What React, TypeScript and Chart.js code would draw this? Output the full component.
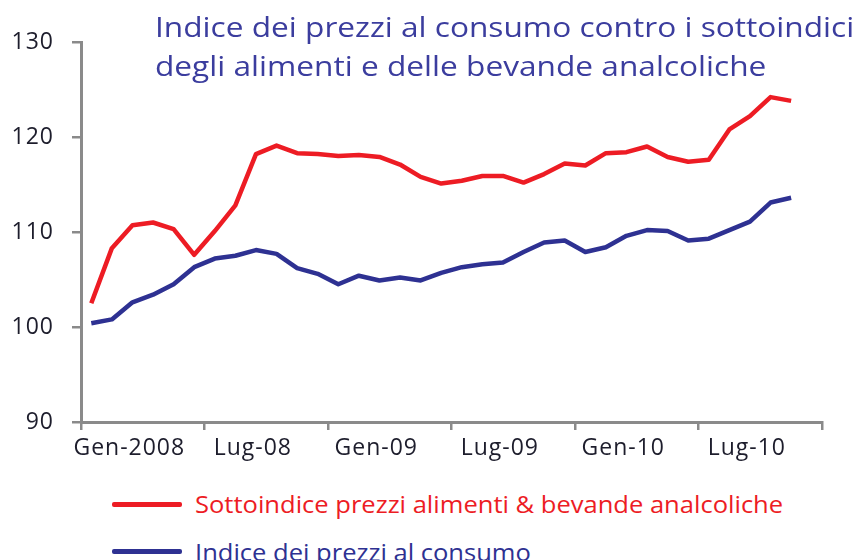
import React, { useEffect, useRef } from 'react';
import { Chart, registerables } from 'chart.js';

Chart.register(...registerables);

// Monthly categories: Gen-2008 .. Dic-2010
const months = [
  'Gen-08', 'Feb-08', 'Mar-08', 'Apr-08', 'Mag-08', 'Giu-08', 'Lug-08', 'Ago-08', 'Set-08', 'Ott-08', 'Nov-08', 'Dic-08',
  'Gen-09', 'Feb-09', 'Mar-09', 'Apr-09', 'Mag-09', 'Giu-09', 'Lug-09', 'Ago-09', 'Set-09', 'Ott-09', 'Nov-09', 'Dic-09',
  'Gen-10', 'Feb-10', 'Mar-10', 'Apr-10', 'Mag-10', 'Giu-10', 'Lug-10', 'Ago-10', 'Set-10', 'Ott-10', 'Nov-10', 'Dic-10',
];

// Labels shown on the x axis (every six months)
const tickLabels = ['Gen-2008', 'Lug-08', 'Gen-09', 'Lug-09', 'Gen-10', 'Lug-10'];

const yTicks = [90, 100, 110, 120, 130];

// Sottoindice prezzi alimenti & bevande analcoliche
const foodIndex = [
  102.5, 108.3, 110.7, 111.0, 110.3, 107.6, 110.1, 112.8, 118.2, 119.1, 118.3, 118.2,
  118.0, 118.1, 117.9, 117.1, 115.8, 115.1, 115.4, 115.9, 115.9, 115.2, 116.1, 117.2,
  117.0, 118.3, 118.4, 119.0, 117.9, 117.4, 117.6, 120.8, 122.2, 124.2, 123.8,
];

// Indice dei prezzi al consumo
const cpi = [
  100.4, 100.8, 102.6, 103.4, 104.5, 106.3, 107.2, 107.5, 108.1, 107.7, 106.2, 105.6,
  104.5, 105.4, 104.9, 105.2, 104.9, 105.7, 106.3, 106.6, 106.8, 107.9, 108.9, 109.1,
  107.9, 108.4, 109.6, 110.2, 110.1, 109.1, 109.3, 110.2, 111.1, 113.1, 113.6,
];

const titleLines = [
  'Indice dei prezzi al consumo contro i sottoindici',
  'degli alimenti e delle bevande analcoliche',
];
const legendLabels = [
  'Sottoindice prezzi alimenti & bevande analcoliche',
  'Indice dei prezzi al consumo',
];

const RED = '#ED1C24';
const BLUE = '#2E3192';
const TITLE_BLUE = '#3b3d9e';
const AXIS_GRAY = '#8a8a8a';
const LABEL_COLOR = '#1d1d2c';
const FONT = "'Open Sans', 'Noto Sans', sans-serif";

const letterSpacingPlugin = {
  id: 'letterSpacing',
  beforeUpdate(chart: any) {
    chart.ctx.letterSpacing = '1px';
  },
  beforeDraw(chart: any) {
    chart.ctx.letterSpacing = '1px';
  },
};

export default function App() {
  const canvasRef = useRef<HTMLCanvasElement | null>(null);

  useEffect(() => {
    const canvas = canvasRef.current;
    if (!canvas) return;
    const chart = new Chart(canvas, {
      type: 'line',
      data: {
        labels: months,
        datasets: [
          {
            label: legendLabels[0],
            data: foodIndex,
            borderColor: RED,
            backgroundColor: RED,
            borderWidth: 4.5,
            pointRadius: 0,
            tension: 0,
          },
          {
            label: legendLabels[1],
            data: cpi,
            borderColor: BLUE,
            backgroundColor: BLUE,
            borderWidth: 4.5,
            pointRadius: 0,
            tension: 0,
          },
        ],
      },
      plugins: [letterSpacingPlugin],
      options: {
        animation: false,
        responsive: false,
        maintainAspectRatio: false,
        layout: { padding: { left: 0, right: 37, top: 42, bottom: 0 } },
        plugins: {
          legend: { display: false },
          title: { display: false },
          tooltip: { enabled: false },
        },
        elements: {
          line: { borderJoinStyle: 'round', borderCapStyle: 'butt' },
        },
        scales: {
          x: {
            type: 'category',
            offset: true,
            grid: {
              offset: true,
              drawOnChartArea: false,
              drawTicks: true,
              tickLength: 8,
              lineWidth: 2.5,
              color: (ctx: any) =>
                ctx.index === undefined || ctx.index % 6 === 0 ? AXIS_GRAY : 'rgba(0,0,0,0)',
            },
            border: { display: true, color: AXIS_GRAY, width: 3 },
            ticks: {
              autoSkip: false,
              maxRotation: 0,
              minRotation: 0,
              labelOffset: 38,
              padding: 5,
              color: LABEL_COLOR,
              font: { family: FONT, size: 23 },
              callback: (_v: any, index: number) => (index % 6 === 0 ? tickLabels[index / 6] : ''),
            },
            afterFit: (scale: any) => {
              scale.height = 48;
            },
          },
          y: {
            type: 'linear',
            min: 90,
            max: 130,
            grid: {
              drawOnChartArea: false,
              drawTicks: true,
              tickLength: 9,
              lineWidth: 2.5,
              color: AXIS_GRAY,
            },
            border: { display: true, color: AXIS_GRAY, width: 3 },
            ticks: {
              padding: 18,
              color: LABEL_COLOR,
              font: { family: FONT, size: 23 },
            },
            afterBuildTicks: (scale: any) => {
              scale.ticks = yTicks.map((v) => ({ value: v }));
            },
            afterFit: (scale: any) => {
              scale.width = 81;
            },
          },
        },
      },
    });
    return () => chart.destroy();
  }, []);

  const textBase: React.CSSProperties = {
    position: 'absolute',
    whiteSpace: 'nowrap',
    fontFamily: FONT,
    lineHeight: 1,
    margin: 0,
    transformOrigin: '0 50%',
  };

  return (
    <div
      style={{
        position: 'absolute',
        left: 0,
        top: 0,
        width: 859,
        height: 560,
        overflow: 'hidden',
        background: '#ffffff',
      }}
    >
      <canvas
        ref={canvasRef}
        width={859}
        height={470}
        style={{ position: 'absolute', left: 0, top: 0, width: 859, height: 470 }}
      />
      <div style={{ ...textBase, left: 155, top: 12, fontSize: 28, color: TITLE_BLUE, transform: 'scaleX(1.13)' }}>
        {titleLines[0]}
      </div>
      <div style={{ ...textBase, left: 155, top: 51, fontSize: 28, color: TITLE_BLUE, transform: 'scaleX(1.13)' }}>
        {titleLines[1]}
      </div>

      <div style={{ position: 'absolute', left: 112, top: 502, width: 70, height: 5, background: RED, borderRadius: 2 }} />
      <div style={{ ...textBase, left: 195, top: 493, fontSize: 23, color: RED, transform: 'scaleX(1.11)' }}>
        {legendLabels[0]}
      </div>
      <div style={{ position: 'absolute', left: 112, top: 549, width: 70, height: 5, background: BLUE, borderRadius: 2 }} />
      <div style={{ ...textBase, left: 195, top: 541, fontSize: 23, color: BLUE, transform: 'scaleX(1.11)' }}>
        {legendLabels[1]}
      </div>
    </div>
  );
}
